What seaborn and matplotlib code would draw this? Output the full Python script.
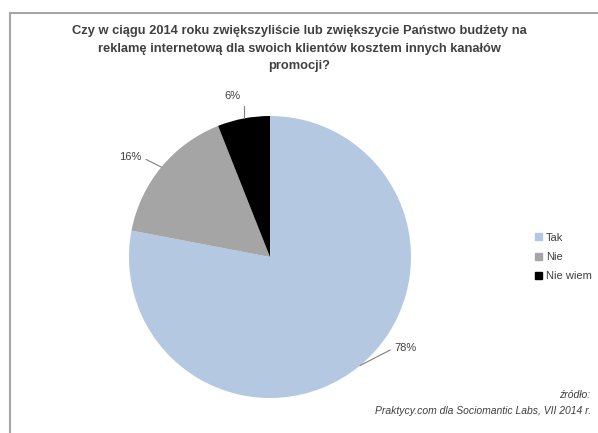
import matplotlib
matplotlib.use("Agg")
import matplotlib.pyplot as plt
import numpy as np
import seaborn as sns

# Survey answers and their shares (%)
answers = ["Tak", "Nie", "Nie wiem"]
shares = [78, 16, 6]
share_labels = ["78%", "16%", "6%"]
slice_colors = ["#b4c8e2", "#a5a5a5", "#000000"]

title = ("Czy w ciągu 2014 roku zwiększyliście lub zwiększycie Państwo budżety na\n"
         "reklamę internetową dla swoich klientów kosztem innych kanałów\n"
         "promocji?")
source_head = "źródło:"
source_text = "Praktycy.com dla Sociomantic Labs, VII 2014 r."

sns.set_theme(style="white")
plt.rcParams["font.family"] = ["Liberation Sans", "DejaVu Sans"]

W, H = 598, 433
fig = plt.figure(figsize=(W / 100, H / 100), dpi=100)
fig.patch.set_facecolor("white")

# one axes spanning the whole figure, in pixel units (y up)
ax = fig.add_axes([0, 0, 1, 1])
palette = sns.color_palette(slice_colors)
cx, cy, r = 270, H - 257, 141
wedges, _ = ax.pie(shares, colors=palette, startangle=90, counterclock=False,
                   center=(cx, cy), radius=r,
                   wedgeprops=dict(linewidth=0))
ax.set_xlim(0, W)
ax.set_ylim(0, H)
ax.set_aspect("auto")
ax.axis("off")

# data labels with leader lines to the middle of each arc
offsets = [(46, 18), (-31, 10), (-11, 22)]
connections = ["arc3,rad=0", "arc3,rad=0", "angle,angleA=0,angleB=90,rad=0"]
relpos = [(0, 0.5), (1, 0.5), (1, 0.4)]
for w, lab, off, cs, rp in zip(wedges, share_labels, offsets, connections, relpos):
    mid = np.deg2rad((w.theta1 + w.theta2) / 2)
    px, py = cx + r * np.cos(mid), cy + r * np.sin(mid)
    ax.annotate(lab, xy=(px, py), xytext=(px + off[0], py + off[1]),
                ha="center", va="center", fontsize=8, color="#404040",
                arrowprops=dict(arrowstyle="-", color="#7f7f7f", lw=0.8,
                                connectionstyle=cs, relpos=rp,
                                shrinkA=1, shrinkB=0))

# title
fig.text(0.5, 1 - 25 / H, title, ha="center", va="top", fontsize=9.3,
         fontweight="bold", color="#404040", linespacing=1.62)

# legend
handles = [plt.Rectangle((0, 0), 1, 1, color=c) for c in palette]
fig.legend(handles, answers, loc="center left", bbox_to_anchor=(525 / W, 1 - 257 / H),
           frameon=False, fontsize=8, handlelength=0.6, handleheight=0.6,
           handletextpad=0.4, labelspacing=0.85, labelcolor="#404040")

# source note
fig.text(590 / W, 1 - 395 / H, source_head, ha="right", va="center",
         fontsize=7.5, style="italic", color="#404040")
fig.text(591 / W, 1 - 411 / H, source_text, ha="right", va="center",
         fontsize=7.5, style="italic", color="#404040")

# chart area frame (top and left edges)
fig.add_artist(plt.Line2D([10 / W, 1], [1 - 13 / H, 1 - 13 / H], color="#a6a6a6", lw=1.5))
fig.add_artist(plt.Line2D([10 / W, 10 / W], [1 - 13 / H, 0], color="#a6a6a6", lw=1.5))

fig.savefig("out.png", dpi=100, facecolor="white")
